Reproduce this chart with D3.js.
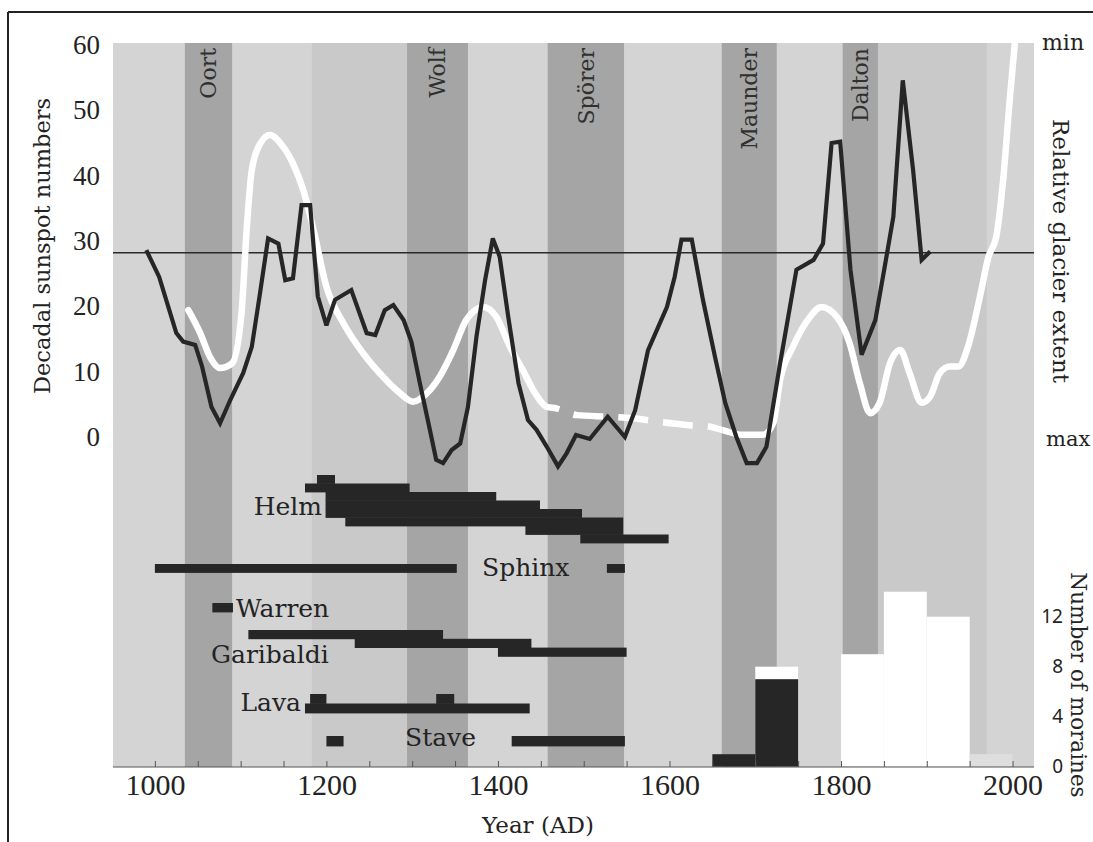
<!DOCTYPE html>
<html>
<head>
<meta charset="utf-8">
<script src="https://cdn.jsdelivr.net/npm/d3@7"></script>
<style>
  html, body { margin: 0; padding: 0; background: #ffffff; }
  svg { display: block; }
</style>
</head>
<body>
<svg id="chart" width="1093" height="842"></svg>
<script>
// ---------------- data ----------------

// Decadal sunspot numbers
const sunspotYears = [990,1005,1025,1033,1047,1055,1066,1076,1088,1103,1113,1122,1132,1144,1152,1161,1171,1181,1190,1200,
  1210,1229,1247,1257,1268,1278,1290,1299,1309,1319,1328,1336,1346,1356,1365,1375,1385,1394,1402,1412,
  1424,1435,1445,1457,1470,1480,1491,1507,1528,1548,1560,1575,1597,1606,1614,1626,1639,1653,1665,1678,
  1690,1702,1713,1729,1748,1768,1779,1789,1799,1811,1824,1840,1851,1861,1872,1884,1894,1904];
const sunspotValues = [28.6,24.5,15.9,14.6,14.1,10.8,4.6,2.1,5.7,9.8,13.8,21.5,30.4,29.6,24.0,24.3,35.5,35.5,21.5,17.1,
  21.0,22.5,15.9,15.6,19.4,20.2,17.9,14.6,8.2,2.1,-3.5,-4.0,-2.0,-1.0,4.6,15.4,24.0,30.4,27.6,18.4,
  8.2,2.6,1.1,-1.5,-4.5,-2.5,0.3,-0.3,3.1,0.0,4.1,13.3,19.9,24.5,30.2,30.2,21.0,12.3,5.2,0.0,
  -4.0,-4.0,-1.5,11.3,25.6,27.1,29.6,45.0,45.2,25.6,12.6,17.9,26.1,33.7,54.6,40.9,27.1,28.4];
const sunspotMeanLevel = 28.2;

// Relative glacier extent (0 = minimum, 1 = maximum)
const glacierYears = [1039,1053,1064,1076,1090,1101,1107,1113,1123,1134,1148,1161,1173,1185,1200,1220,1243,1266,1286,1301,
  1317,1332,1348,1363,1383,1398,1414,1429,1441,1457,1468,1492,1530,1558,1588,1620,1646,1662,1685,1709,
  1721,1729,1744,1764,1777,1795,1810,1822,1834,1845,1857,1869,1880,1894,1904,1915,1927,1937,1948,1962,
  1972,1981,1989,1997,2003,2010];
const glacierExtent = [0.671,0.730,0.789,0.818,0.806,0.679,0.468,0.316,0.249,0.228,0.253,0.300,0.367,0.468,0.612,0.705,0.781,0.840,0.882,0.903,
  0.882,0.840,0.772,0.696,0.663,0.688,0.764,0.823,0.873,0.916,0.920,0.937,0.941,0.945,0.954,0.962,0.966,0.975,0.987,0.987,
  0.957,0.848,0.764,0.688,0.663,0.688,0.755,0.857,0.932,0.906,0.806,0.772,0.831,0.906,0.890,0.831,0.814,0.814,0.764,0.637,
  0.536,0.485,0.342,0.131,-0.013,-0.200];
const glacierUncertainSpan = [1457, 1662];   // poorly constrained stretch, drawn dashed

// Grand solar minima
const minimaNames = ["Oort", "Wolf", "Spörer", "Maunder", "Dalton"];
const minimaStart = [1035, 1294, 1458, 1661, 1802];
const minimaEnd   = [1090, 1365, 1547, 1725, 1843];

// Lighter background intervals between minima
const lightIntervals = [[950,1035],[1090,1183],[1365,1458],[1547,1661],[1725,1802],[1970,2025]];

// Dated moraine intervals per site: [from, to, lane]
const helmSpans      = [[1189,1210,0],[1175,1297,1],[1199,1398,2],[1199,1449,3],[1199,1498,4],[1222,1546,5],[1432,1546,6],[1496,1599,7]];
const sphinxSpans    = [[1000,1352,0],[1527,1548,0]];
const warrenSpans    = [[1067,1091,0]];
const garibaldiSpans = [[1109,1336,0],[1233,1439,1],[1400,1550,2]];
const lavaSpans      = [[1181,1200,0],[1328,1349,0],[1175,1437,1]];
const staveSpans     = [[1200,1220,0],[1416,1548,0]];

// Number of moraines per 50-year bin
const moraineBinStart = [1650, 1700, 1750, 1800, 1850, 1900, 1950];
const moraineBinWidth = 50;
const moraineCountsEarly = [1, 7, 0, 0, 0, 0, 0];
const moraineCountsLate  = [0, 8, 0, 9, 14, 12, 1];

// Axis ticks
const yearTicks = d3.range(1000, 2001, 50);
const yearLabels = [1000, 1200, 1400, 1600, 1800, 2000];
const sunspotTicks = [0, 10, 20, 30, 40, 50, 60];
const moraineTicks = [0, 4, 8, 12];

// ---------------- layout ----------------
const ink = "#232323";
const serif = "'DejaVu Serif', serif";
const numSerif = "'Liberation Serif', 'Times New Roman', serif";
const sans = "'Noto Sans', 'Open Sans', sans-serif";
const plot = { left: 113, right: 1034, top: 43, bottom: 767 };

const svg = d3.select("#chart");

const x = d3.scaleLinear().domain([950, 2025]).range([112, 1034]);
const ySun = d3.scaleLinear().domain([0, 60]).range([437, 45]);
const yGlacier = d3.scaleLinear().domain([0, 1]).range([45, 440]);
const yMor = d3.scaleLinear().domain([0, 12]).range([766.7, 616.7]);

const defs = svg.append("defs");
defs.append("clipPath").attr("id", "plotClip").append("rect")
  .attr("x", plot.left).attr("y", plot.top)
  .attr("width", plot.right - plot.left).attr("height", plot.bottom - plot.top);
// solid parts of the glacier curve
const solidClip = defs.append("clipPath").attr("id", "solidClip");
solidClip.append("rect").attr("x", plot.left).attr("y", plot.top)
  .attr("width", x(glacierUncertainSpan[0]) - plot.left).attr("height", plot.bottom - plot.top);
solidClip.append("rect").attr("x", x(glacierUncertainSpan[1])).attr("y", plot.top)
  .attr("width", plot.right - x(glacierUncertainSpan[1])).attr("height", plot.bottom - plot.top);
// dashed part
defs.append("clipPath").attr("id", "dashClip").append("rect")
  .attr("x", x(glacierUncertainSpan[0])).attr("y", plot.top)
  .attr("width", x(glacierUncertainSpan[1]) - x(glacierUncertainSpan[0])).attr("height", plot.bottom - plot.top);

// outer frame
svg.append("line").attr("x1", 8).attr("y1", 12).attr("x2", 1093).attr("y2", 12)
  .attr("stroke", ink).attr("stroke-width", 2);
svg.append("line").attr("x1", 8).attr("y1", 12).attr("x2", 8).attr("y2", 842)
  .attr("stroke", ink).attr("stroke-width", 2);

const gPlot = svg.append("g").attr("clip-path", "url(#plotClip)");

// background
gPlot.append("rect").attr("x", plot.left).attr("y", plot.top)
  .attr("width", plot.right - plot.left).attr("height", plot.bottom - plot.top)
  .attr("fill", "#c9c9c9");
gPlot.selectAll("rect.light").data(lightIntervals).join("rect")
  .attr("class", "light")
  .attr("x", d => x(d[0])).attr("width", d => x(d[1]) - x(d[0]))
  .attr("y", plot.top).attr("height", plot.bottom - plot.top)
  .attr("fill", "#d4d4d4");

// solar minima bands
const minima = minimaNames.map((n, i) => ({ name: n, from: minimaStart[i], to: minimaEnd[i] }));
gPlot.selectAll("rect.minimum").data(minima).join("rect")
  .attr("class", "minimum")
  .attr("x", d => x(d.from)).attr("width", d => x(d.to) - x(d.from))
  .attr("y", plot.top).attr("height", plot.bottom - plot.top)
  .attr("fill", "#a5a5a5");

// moraine count histogram
const bins = moraineBinStart.map((s, i) => ({ start: s, early: moraineCountsEarly[i], late: moraineCountsLate[i] }));
gPlot.selectAll("rect.late").data(bins.filter(d => d.late > 0)).join("rect")
  .attr("class", "late")
  .attr("x", d => x(d.start)).attr("width", d => x(d.start + moraineBinWidth) - x(d.start))
  .attr("y", d => yMor(d.late)).attr("height", d => yMor(0) - yMor(d.late))
  .attr("fill", d => d.start >= 1950 ? "#dedede" : "#ffffff");
gPlot.selectAll("rect.early").data(bins.filter(d => d.early > 0)).join("rect")
  .attr("class", "early")
  .attr("x", d => x(d.start)).attr("width", d => x(d.start + moraineBinWidth) - x(d.start))
  .attr("y", d => yMor(d.early)).attr("height", d => yMor(0) - yMor(d.early))
  .attr("fill", "#262626");

// dated moraine intervals
const sites = [
  { name: "Helm",      spans: helmSpans,      top: 475, lane: 8.5, lx: 322, ly: 515, anchor: "end" },
  { name: "Sphinx",    spans: sphinxSpans,    top: 564, lane: 8.5, lx: 482, ly: 576, anchor: "start" },
  { name: "Warren",    spans: warrenSpans,    top: 603, lane: 9,   lx: 236, ly: 617, anchor: "start" },
  { name: "Garibaldi", spans: garibaldiSpans, top: 630, lane: 8.8, lx: 211, ly: 663, anchor: "start" },
  { name: "Lava",      spans: lavaSpans,      top: 694, lane: 9.5, lx: 301, ly: 711, anchor: "end" },
  { name: "Stave",     spans: staveSpans,     top: 736, lane: 10,  lx: 405, ly: 746, anchor: "start" }
];
sites.forEach(site => {
  gPlot.append("g").selectAll("rect").data(site.spans).join("rect")
    .attr("x", d => x(d[0])).attr("width", d => x(d[1]) - x(d[0]))
    .attr("y", d => site.top + d[2] * site.lane).attr("height", site.lane + 0.4)
    .attr("fill", "#262626");
  svg.append("text")
    .attr("x", site.lx).attr("y", site.ly)
    .attr("text-anchor", site.anchor)
    .attr("font-family", serif).attr("font-size", 25)
    .attr("fill", ink)
    .text(site.name);
});

// mean sunspot level
gPlot.append("line")
  .attr("x1", plot.left).attr("x2", plot.right)
  .attr("y1", ySun(sunspotMeanLevel)).attr("y2", ySun(sunspotMeanLevel))
  .attr("stroke", "#2a2a2a").attr("stroke-width", 1.6);

// glacier extent curve
const glacier = glacierYears.map((yr, i) => [yr, glacierExtent[i]]);
const glacierLine = d3.line().x(d => x(d[0])).y(d => yGlacier(d[1])).curve(d3.curveMonotoneX);
gPlot.append("g").attr("clip-path", "url(#solidClip)").append("path")
  .attr("d", glacierLine(glacier))
  .attr("fill", "none").attr("stroke", "#ffffff").attr("stroke-width", 6.5)
  .attr("stroke-linecap", "round");
gPlot.append("g").attr("clip-path", "url(#dashClip)").append("path")
  .attr("d", glacierLine(glacier))
  .attr("fill", "none").attr("stroke", "#ffffff").attr("stroke-width", 6.5)
  .attr("stroke-dasharray", "30,15").attr("stroke-dashoffset", 0);

// sunspot curve
const sunspots = sunspotYears.map((yr, i) => [yr, sunspotValues[i]]);
gPlot.append("path")
  .attr("d", d3.line().x(d => x(d[0])).y(d => ySun(d[1]))(sunspots))
  .attr("fill", "none").attr("stroke", "#262626").attr("stroke-width", 4.2)
  .attr("stroke-linejoin", "miter").attr("stroke-miterlimit", 3);

// minima labels
svg.selectAll("text.minimum").data(minima).join("text")
  .attr("class", "minimum")
  .attr("transform", d => `translate(${(x(d.from) + x(d.to)) / 2 + 8},48) rotate(-90)`)
  .attr("text-anchor", "end")
  .attr("font-family", serif).attr("font-size", 22)
  .attr("fill", "#303030")
  .text(d => d.name);

// bottom axis
const xAxis = d3.axisBottom(x)
  .tickValues(yearTicks)
  .tickSize(-6)
  .tickPadding(7)
  .tickFormat(d => yearLabels.includes(d) ? String(d) : "");
const gx = svg.append("g").attr("transform", `translate(0,${plot.bottom})`).call(xAxis);
gx.select(".domain").attr("d", `M${plot.left},0H${plot.right}`).attr("stroke", "#555").attr("stroke-width", 1.2);
gx.selectAll(".tick line").attr("stroke", "#555").attr("stroke-width", 1);
gx.selectAll(".tick text")
  .attr("font-family", numSerif).attr("font-size", 30).attr("fill", ink);

// left axis: sunspot numbers
const yAxis = d3.axisLeft(ySun).tickValues(sunspotTicks).tickSize(0).tickPadding(0).tickFormat(d3.format("d"));
const gy = svg.append("g").attr("transform", "translate(100,0)").call(yAxis);
gy.select(".domain").remove();
gy.selectAll(".tick text")
  .attr("font-family", numSerif).attr("font-size", 27).attr("fill", ink);

// right axis: number of moraines
const mAxis = d3.axisRight(yMor).tickValues(moraineTicks).tickSize(0).tickPadding(0).tickFormat(d3.format("d"));
const gm = svg.append("g").attr("transform", "translate(1063,0)").call(mAxis);
gm.select(".domain").remove();
gm.selectAll(".tick text")
  .attr("text-anchor", "end").attr("x", 0)
  .attr("font-family", sans).attr("font-size", 19).attr("fill", ink);

// axis titles
svg.append("text")
  .attr("transform", "translate(50,246) rotate(-90)")
  .attr("text-anchor", "middle")
  .attr("font-family", serif).attr("font-size", 22.5).attr("fill", ink)
  .text("Decadal sunspot numbers");

svg.append("text")
  .attr("x", 538).attr("y", 833)
  .attr("text-anchor", "middle")
  .attr("font-family", serif).attr("font-size", 23).attr("fill", ink)
  .text("Year (AD)");

svg.append("text")
  .attr("transform", "translate(1053,251) rotate(90)")
  .attr("text-anchor", "middle")
  .attr("font-family", serif).attr("font-size", 23).attr("fill", ink)
  .text("Relative glacier extent");

svg.append("text")
  .attr("transform", "translate(1071,685) rotate(90)")
  .attr("text-anchor", "middle")
  .attr("font-family", serif).attr("font-size", 21.5).attr("fill", ink)
  .text("Number of moraines");

svg.append("text")
  .attr("x", 1042).attr("y", 50)
  .attr("font-family", serif).attr("font-size", 22).attr("fill", ink)
  .text("min");
svg.append("text")
  .attr("x", 1046).attr("y", 446)
  .attr("font-family", serif).attr("font-size", 21).attr("fill", ink)
  .text("max");
</script>
</body>
</html>
